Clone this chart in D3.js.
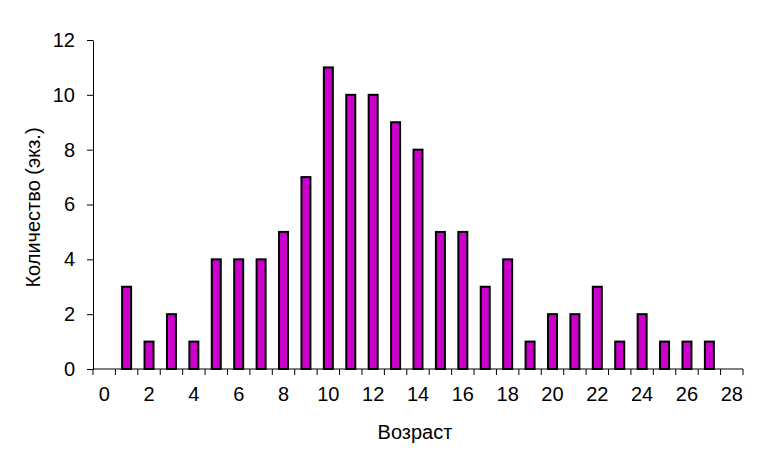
<!DOCTYPE html>
<html>
<head>
<meta charset="utf-8">
<script src="https://cdn.jsdelivr.net/npm/d3@7"></script>
<style>
  body { margin: 0; background: #fff; }
  text { font-family: "Liberation Sans", Arial, sans-serif; }
</style>
</head>
<body>
<div id="chart"></div>
<script>
// ages (categories) and counts
var ages = d3.range(0, 29);
var counts = [0, 3, 1, 2, 1, 4, 4, 4, 5, 7, 11, 10, 10, 9, 8, 5, 5, 3, 4, 1, 2, 2, 3, 1, 2, 1, 1, 1, 0];
var yTicks = [0, 2, 4, 6, 8, 10, 12];
var xTickLabels = [0, 2, 4, 6, 8, 10, 12, 14, 16, 18, 20, 22, 24, 26, 28];

var width = 765, height = 458;
var mLeft = 93, mRight = 743, mTop = 40, mBottom = 369;
var fontSize = "20px";

var svg = d3.select("#chart").append("svg")
	.attr("width", width).attr("height", height);

var x = d3.scaleBand().domain(ages).range([mLeft, mRight]);
var y = d3.scaleLinear().domain([0, 12]).range([mBottom, mTop]);

var barW = 9;

// bars
svg.selectAll("rect.bar").data(ages.filter(function(d) { return counts[d] > 0; }))
	.enter().append("rect")
	.attr("class", "bar")
	.attr("x", function(d) { return x(d) + x.bandwidth() / 2 - barW / 2; })
	.attr("y", function(d) { return y(counts[d]); })
	.attr("width", barW)
	.attr("height", function(d) { return y(0) - y(counts[d]); })
	.attr("fill", "#CC00CC")
	.attr("stroke", "#000")
	.attr("stroke-width", 2);

// y axis
var yAxis = svg.append("g")
	.attr("transform", "translate(" + mLeft + ",0)")
	.call(d3.axisLeft(y).tickValues(yTicks).tickSize(6).tickPadding(12).tickSizeOuter(0));
yAxis.selectAll("text").attr("font-size", fontSize).attr("fill", "#000")
	.attr("font-family", "'Liberation Sans', Arial, sans-serif");
yAxis.selectAll("line, path").attr("stroke", "#000");

// x axis: ticks between categories, labels every second category
var xg = svg.append("g").attr("transform", "translate(0," + mBottom + ")");
xg.append("line").attr("x1", mLeft).attr("x2", mRight).attr("stroke", "#000");
xg.selectAll("line.tk").data(d3.range(0, 30)).enter().append("line")
	.attr("class", "tk")
	.attr("x1", function(i) { return mLeft + i * x.step(); })
	.attr("x2", function(i) { return mLeft + i * x.step(); })
	.attr("y1", 0).attr("y2", 6)
	.attr("stroke", "#000");
xg.selectAll("text").data(xTickLabels).enter().append("text")
	.attr("x", function(d) { return x(d) + x.bandwidth() / 2; })
	.attr("y", 32)
	.attr("text-anchor", "middle")
	.attr("font-size", fontSize)
	.text(function(d) { return d; });

// axis titles
svg.append("text")
	.attr("x", 415).attr("y", 439)
	.attr("text-anchor", "middle")
	.attr("font-size", fontSize)
	.text("Возраст");

svg.append("text")
	.attr("transform", "translate(40," + (mTop + mBottom + 6) / 2 + ") rotate(-90)")
	.attr("text-anchor", "middle")
	.attr("font-size", fontSize)
	.text("Количество (экз.)");
</script>
</body>
</html>
